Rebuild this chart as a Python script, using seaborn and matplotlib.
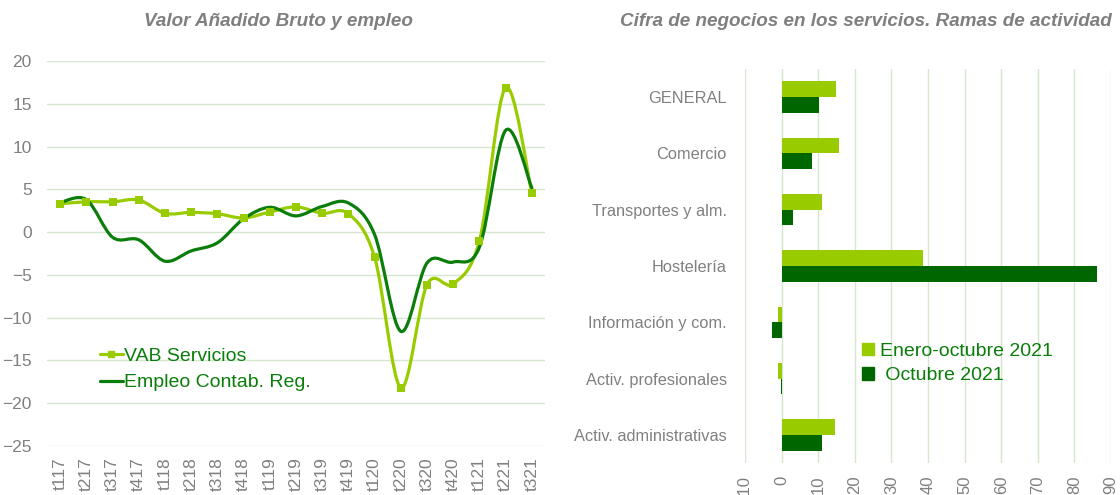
import numpy as np
import pandas as pd
import seaborn as sns
import matplotlib.pyplot as plt
from matplotlib.path import Path
from matplotlib.patches import PathPatch, Patch
from matplotlib.lines import Line2D

# Left panel data
quarters = ["t117", "t217", "t317", "t417", "t118", "t218", "t318", "t418",
            "t119", "t219", "t319", "t419", "t120", "t220", "t320", "t420",
            "t121", "t221", "t321"]
vab = [3.3, 3.55, 3.55, 3.75, 2.2, 2.3, 2.15, 1.65, 2.35, 2.95, 2.2, 2.15,
       -2.95, -18.2, -6.15, -6.05, -1.0, 16.9, 4.55]
empleo = [3.45, 3.8, -0.6, -0.9, -3.4, -2.2, -1.25, 1.55, 2.9, 1.9, 3.0, 3.4,
          -0.3, -11.6, -3.6, -3.5, -1.75, 11.9, 5.15]

# Right panel data
ramas = ["GENERAL", "Comercio", "Transportes y alm.", "Hostelería",
         "Información y com.", "Activ. profesionales", "Activ. administrativas"]
enero_oct = [14.8, 15.8, 11.0, 38.7, -1.0, -1.0, 14.5]
octubre = [10.1, 8.3, 3.1, 86.3, -2.7, -0.1, 11.0]

LIGHT = "#99CC00"
DARK_LINE = "#0A7D0A"
DARK_BAR = "#006600"
GRAY = "#808080"
GRID = "#D6E6D0"

sns.set_style("white")
plt.rcParams["font.family"] = ["Liberation Sans", "DejaVu Sans"]


def smooth_path(xs, ys):
    # Excel-like smoothed line as cubic bezier segments
    pts = np.column_stack([xs, ys]).astype(float)
    verts = [pts[0]]
    codes = [Path.MOVETO]
    n = len(pts)
    for i in range(n - 1):
        p0 = pts[max(i - 1, 0)]
        p1 = pts[i]
        p2 = pts[i + 1]
        p3 = pts[min(i + 2, n - 1)]
        c1 = p1 + (p2 - p0) / 6.0
        c2 = p2 - (p3 - p1) / 6.0
        verts += [c1, c2, p2]
        codes += [Path.CURVE4] * 3
    return Path(verts, codes)


fig = plt.figure(figsize=(11.2, 4.95), dpi=100)
W, H = 1120, 495

# ---- Left: Valor Añadido Bruto y empleo
ax1 = fig.add_axes([47 / W, 1 - 446 / H, (545 - 47) / W, (446 - 61) / H])
df_l = pd.DataFrame({"q": quarters, "pos": range(len(quarters)),
                     "vab": vab, "empleo": empleo})

ax1.add_patch(PathPatch(smooth_path(df_l["pos"], df_l["vab"]), fill=False,
                        edgecolor=LIGHT, lw=2.3, zorder=2, capstyle="round"))
ax1.add_patch(PathPatch(smooth_path(df_l["pos"], df_l["empleo"]), fill=False,
                        edgecolor=DARK_LINE, lw=2.3, zorder=3, capstyle="round"))
sns.scatterplot(data=df_l, x="pos", y="vab", marker="s", s=30, color=LIGHT,
                edgecolor=LIGHT, linewidth=0, zorder=4, ax=ax1)

ax1.set_xlim(-0.5, len(quarters) - 0.5)
ax1.set_ylim(-25, 20)
ax1.set_yticks(range(-25, 21, 5))
ax1.set_xticks(range(len(quarters)))
ax1.set_xticklabels(quarters, rotation=90)
ax1.set_xlabel("")
ax1.set_ylabel("")
ax1.grid(axis="y", color=GRID, lw=1)
ax1.set_axisbelow(True)
ax1.tick_params(axis="both", length=0, colors=GRAY, labelsize=12.5)
ax1.tick_params(axis="y", pad=11)
ax1.tick_params(axis="x", pad=8)
for s in ax1.spines.values():
    s.set_visible(False)

h1 = [Line2D([], [], color=LIGHT, lw=2.3, marker="s", markersize=5),
      Line2D([], [], color=DARK_LINE, lw=2.3)]
leg1 = ax1.legend(h1, ["VAB Servicios", "Empleo Contab. Reg."],
                  loc="center left", bbox_to_anchor=(0.106, 0.199),
                  frameon=False, fontsize=14, handlelength=1.2,
                  handletextpad=0.05, borderpad=0, borderaxespad=0,
                  labelspacing=0.45)
for t in leg1.get_texts():
    t.set_color(DARK_LINE)

fig.text(278 / W, 1 - 22 / H, "Valor Añadido Bruto y empleo", ha="center",
         va="center", fontsize=13.6, fontweight="bold", style="italic",
         color="#7F7F7F")

# ---- Right: Cifra de negocios
ax2 = fig.add_axes([745 / W, 1 - 463 / H, (1111 - 745) / W, (463 - 69) / H])
df_r = pd.DataFrame({
    "rama": ramas * 2,
    "valor": enero_oct + octubre,
    "periodo": ["Enero-octubre 2021"] * len(ramas) + [" Octubre 2021"] * len(ramas),
})
sns.barplot(data=df_r, y="rama", x="valor", hue="periodo", orient="h",
            palette=[LIGHT, DARK_BAR], saturation=1, width=0.56,
            legend=False, ax=ax2, linewidth=0)

ax2.set_xlim(-10, 90)
ax2.set_xticks(range(-10, 91, 10))
ax2.set_xticklabels([str(v) for v in range(-10, 91, 10)], rotation=90)
ax2.set_ylim(len(ramas) - 0.5, -0.5)
ax2.set_xlabel("")
ax2.set_ylabel("")
ax2.grid(axis="x", color=GRID, lw=1)
ax2.set_axisbelow(True)
ax2.tick_params(axis="both", length=0, colors=GRAY)
ax2.tick_params(axis="x", labelsize=12, pad=9)
ax2.tick_params(axis="y", labelsize=11.8, pad=13)
for s in ax2.spines.values():
    s.set_visible(False)

h2 = [Patch(color=LIGHT), Patch(color=DARK_BAR)]
leg2 = ax2.legend(h2, ["Enero-octubre 2021", " Octubre 2021"],
                  loc="center left", bbox_to_anchor=(0.32, 0.2525),
                  frameon=False, fontsize=14, handlelength=0.6,
                  handleheight=0.6, handletextpad=0.3, borderpad=0,
                  borderaxespad=0, labelspacing=0.4)
for t in leg2.get_texts():
    t.set_color(DARK_LINE)

fig.text(1112 / W, 1 - 22 / H,
         "Cifra de negocios en los servicios. Ramas de actividad", ha="right",
         va="center", fontsize=13.6, fontweight="bold", style="italic",
         color="#7F7F7F")

fig.savefig("out.png", dpi=100)
